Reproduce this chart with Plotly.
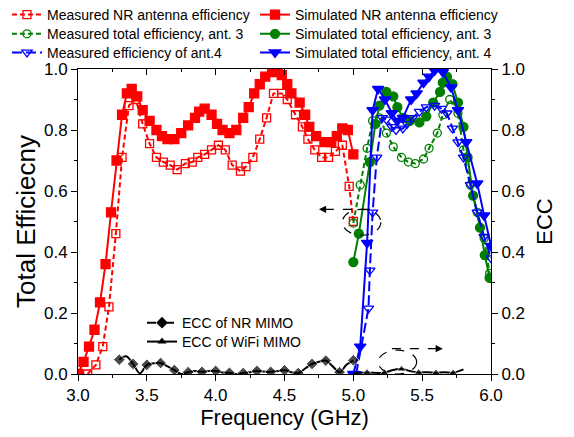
import plotly.graph_objects as go

# ---------------- data ----------------
sim_nr_x = [3.00, 3.04, 3.08, 3.12, 3.16, 3.20, 3.24, 3.28, 3.32, 3.355, 3.39, 3.43, 3.47, 3.52,
            3.57, 3.61, 3.65, 3.70, 3.75, 3.80, 3.85, 3.88, 3.92, 3.97, 4.01, 4.05, 4.10, 4.15,
            4.20, 4.24, 4.28, 4.32, 4.36, 4.41, 4.45, 4.48, 4.52, 4.55, 4.61, 4.65, 4.68, 4.73,
            4.79, 4.84, 4.88, 4.92, 4.96, 5.00]
sim_nr_y = [0.00, 0.04, 0.09, 0.145, 0.235, 0.36, 0.53, 0.70, 0.85, 0.92, 0.935, 0.91, 0.865, 0.83,
            0.80, 0.78, 0.77, 0.77, 0.79, 0.815, 0.84, 0.86, 0.87, 0.85, 0.82, 0.80, 0.79, 0.80,
            0.84, 0.875, 0.92, 0.95, 0.975, 0.99, 0.995, 0.98, 0.95, 0.92, 0.89, 0.85, 0.81, 0.78,
            0.76, 0.76, 0.78, 0.805, 0.80, 0.72]

meas_nr_x = [3.07, 3.13, 3.18, 3.225, 3.275, 3.32, 3.37, 3.42, 3.47, 3.52, 3.57, 3.62, 3.67, 3.72,
             3.78, 3.83, 3.87, 3.92, 3.97, 4.02, 4.07, 4.12, 4.18, 4.22, 4.27, 4.32, 4.37, 4.42,
             4.48, 4.52, 4.58, 4.63, 4.67, 4.72, 4.77, 4.82, 4.87, 4.92, 4.97, 5.00]
meas_nr_y = [0.00, 0.03, 0.09, 0.22, 0.46, 0.71, 0.88, 0.90, 0.82, 0.755, 0.71, 0.695, 0.685, 0.67,
             0.69, 0.695, 0.71, 0.72, 0.735, 0.75, 0.735, 0.685, 0.665, 0.68, 0.71, 0.77, 0.84, 0.92,
             0.92, 0.90, 0.85, 0.81, 0.77, 0.735, 0.71, 0.71, 0.73, 0.75, 0.615, 0.50]

meas_a3_x = [5.00, 5.05, 5.10, 5.14, 5.19, 5.24, 5.29, 5.35, 5.40, 5.45, 5.51, 5.55, 5.61, 5.65,
             5.70, 5.76, 5.80, 5.85, 5.90, 5.95, 5.99]
meas_a3_y = [0.495, 0.62, 0.74, 0.83, 0.84, 0.79, 0.745, 0.71, 0.695, 0.69, 0.705, 0.74, 0.79, 0.85,
             0.90, 0.855, 0.735, 0.62, 0.53, 0.445, 0.33]

sim_a3_x = [5.00, 5.04, 5.12, 5.16, 5.19, 5.24, 5.29, 5.32, 5.36, 5.41, 5.48, 5.53, 5.58, 5.63,
            5.65, 5.68, 5.72, 5.76, 5.80, 5.83, 5.87, 5.92, 5.955, 5.99]
sim_a3_y = [0.367, 0.46, 0.695, 0.82, 0.88, 0.925, 0.91, 0.875, 0.84, 0.83, 0.825, 0.845, 0.89, 0.925,
            0.955, 0.975, 0.95, 0.89, 0.81, 0.71, 0.585, 0.48, 0.39, 0.315]

meas_a4_x = [5.02, 5.11, 5.12, 5.14, 5.17, 5.21, 5.24, 5.28, 5.31, 5.36, 5.39, 5.43, 5.48, 5.53,
             5.59, 5.64, 5.68, 5.72, 5.76, 5.80, 5.85, 5.90, 5.95, 6.00]
meas_a4_y = [0.00, 0.215, 0.34, 0.53, 0.71, 0.84, 0.835, 0.81, 0.80, 0.805, 0.82, 0.84, 0.86, 0.875,
             0.88, 0.87, 0.855, 0.805, 0.76, 0.71, 0.62, 0.53, 0.45, 0.38]

sim_a4_x = [5.00, 5.05, 5.10, 5.14, 5.18, 5.23, 5.28, 5.32, 5.36, 5.42, 5.46, 5.51, 5.55, 5.59,
            5.65, 5.71, 5.76, 5.82, 5.90, 5.95, 6.00]
sim_a4_y = [0.00, 0.09, 0.43, 0.865, 0.935, 0.90, 0.855, 0.83, 0.84, 0.90, 0.92, 0.955, 0.975, 0.995,
            0.99, 0.94, 0.865, 0.76, 0.625, 0.52, 0.42]

ecc_nr_x = [3.30, 3.35, 3.40, 3.45, 3.50, 3.55, 3.60, 3.65, 3.70, 3.75, 3.80, 3.85, 3.90, 3.95,
            4.00, 4.05, 4.10, 4.15, 4.20, 4.25, 4.30, 4.35, 4.40, 4.45, 4.50, 4.55, 4.60, 4.65,
            4.70, 4.75, 4.80, 4.85, 4.90, 4.95, 5.00]
ecc_nr_y = [0.047, 0.058, 0.033, 0.002, 0.030, 0.035, 0.036, 0.025, 0.013, 0.000, 0.006, 0.010,
            0.007, 0.010, 0.010, 0.005, 0.004, 0.000, 0.003, 0.006, 0.010, 0.008, 0.007, 0.010,
            0.012, 0.006, 0.003, 0.018, 0.033, 0.040, 0.044, 0.025, 0.006, 0.030, 0.045]
ecc_nr_marked = [True, False] * 17 + [True]

ecc_wifi_x = [5.00, 5.05, 5.10, 5.15, 5.225, 5.28, 5.35, 5.41, 5.475, 5.54, 5.60, 5.66, 5.725, 5.80]
ecc_wifi_y = [0.003, 0.004, 0.005, 0.004, 0.004, 0.012, 0.016, 0.010, 0.005, 0.006, 0.004, 0.006,
              0.004, 0.015]
ecc_wifi_marked = [False, False, True, False, True, False, True, False, True, False, True, False,
                   True, False]

RED, GREEN, BLUE = "#FF0000", "#008000", "#0000FF"
FONT = "Arial, 'Liberation Sans', sans-serif"
DASH = "5px,3px"

fig = go.Figure()


def add(x, y, name, color, dash, symbol, size, legend):
    fig.add_trace(go.Scatter(
        x=x, y=y, name=name, mode="lines+markers",
        line=dict(color=color, width=2, dash=dash),
        marker=dict(symbol=symbol, size=size, color=color, line=dict(color=color, width=1.3)),
        legend=legend))


add(meas_nr_x, meas_nr_y, "Measured NR antenna efficiency", RED, DASH, "square-open", 8, "legend")
add(sim_nr_x, sim_nr_y, "Simulated NR antenna efficiency", RED, "solid", "square", 9, "legend3")
add(meas_a3_x, meas_a3_y, "Measured total efficiency, ant. 3", GREEN, DASH, "circle-open", 8, "legend4")
add(sim_a3_x, sim_a3_y, "Simulated total efficiency, ant. 3", GREEN, "solid", "circle", 9, "legend5")
add(meas_a4_x, meas_a4_y, "Measured efficiency of ant.4", BLUE, "10px,4px", "triangle-down-open", 9, "legend6")
add(sim_a4_x, sim_a4_y, "Simulated total efficiency, ant. 4", BLUE, "solid", "triangle-down", 10, "legend7")

# ECC curves (right axis)
fig.add_trace(go.Scatter(
    x=ecc_nr_x, y=ecc_nr_y, yaxis="y2", mode="lines+markers", showlegend=False,
    line=dict(color="black", width=2, shape="spline"),
    marker=dict(symbol="diamond", color="black", size=[9 if m else 0 for m in ecc_nr_marked])))
fig.add_trace(go.Scatter(
    x=ecc_wifi_x, y=ecc_wifi_y, yaxis="y2", mode="lines+markers", showlegend=False,
    line=dict(color="black", width=2, shape="spline"),
    marker=dict(symbol="triangle-up", color="black", size=[8 if m else 0 for m in ecc_wifi_marked])))
# legend entries for ECC
fig.add_trace(go.Scatter(x=[None], y=[None], yaxis="y2", name="ECC of NR MIMO", mode="lines+markers",
                         line=dict(color="black", width=2, dash="dashdot"),
                         marker=dict(symbol="diamond", color="black", size=9), legend="legend2"))
fig.add_trace(go.Scatter(x=[None], y=[None], yaxis="y2", name="ECC of WiFi MIMO", mode="lines+markers",
                         line=dict(color="black", width=2),
                         marker=dict(symbol="triangle-up", color="black", size=8), legend="legend8"))
# top axis helper (invisible)
fig.add_trace(go.Scatter(x=[3, 6], y=[0, 0], xaxis="x2", mode="lines", opacity=0,
                         showlegend=False, hoverinfo="skip"))

# ellipses & arrows
ell1 = dict(x0=4.92, x1=5.20, y0=0.455, y1=0.54)
ell2 = dict(x0=5.18, x1=5.46, y0=0.0, y1=0.078)
for e, yr in ((ell1, "y"), (ell2, "y2")):
    fig.add_shape(type="circle", xref="x", yref=yr, line=dict(color="black", width=1.2, dash="dash"), **e)
fig.add_shape(type="line", xref="x", yref="y", x0=5.12, x1=4.80, y0=0.54, y1=0.54,
              line=dict(color="black", width=1.2, dash="dash"))
fig.add_shape(type="line", xref="x", yref="y2", x0=5.28, x1=5.60, y0=0.083, y1=0.083,
              line=dict(color="black", width=1.2, dash="dash"))
fig.add_annotation(x=4.75, y=0.54, ax=4.81, ay=0.54, xref="x", yref="y", axref="x", ayref="y",
                   text="", showarrow=True, arrowhead=2, arrowsize=1.2, arrowwidth=1.2, arrowcolor="black")
fig.add_annotation(x=5.65, y=0.083, ax=5.59, ay=0.083, xref="x", yref="y2", axref="x", ayref="y2",
                   text="", showarrow=True, arrowhead=2, arrowsize=1.2, arrowwidth=1.2, arrowcolor="black")

axis_common = dict(showline=True, linecolor="black", linewidth=1, mirror=False, showgrid=False,
                   zeroline=False, ticks="outside", ticklen=6, tickcolor="black",
                   tickfont=dict(size=17, color="black", family=FONT))

legend_common = dict(orientation="v", xanchor="left", yanchor="middle", bgcolor="rgba(0,0,0,0)",
                     font=dict(size=14, family=FONT), itemwidth=30, tracegroupgap=0)

COL1, COL2 = -0.172, 0.4286
ROW1, ROW2, ROW3 = 1.177, 1.114, 1.053

# the page body adds an 8px offset, so the figure is sized 8px smaller on each leading side
fig.update_layout(
    width=566, height=429, margin=dict(l=70, r=83, t=61, b=63, autoexpand=False),
    paper_bgcolor="white", plot_bgcolor="white",
    font=dict(family=FONT, color="black"),
    xaxis=dict(range=[3, 6], dtick=0.5, tickformat=".1f",
               minor=dict(dtick=0.25, ticks="outside", ticklen=3, tickcolor="black"),
               title=dict(text="Frequency (GHz)", font=dict(size=22), standoff=0), **axis_common),
    xaxis2=dict(range=[3, 6], overlaying="x", side="top", anchor="y", showline=True, linecolor="black",
                showgrid=False, zeroline=False, ticks="inside", ticklen=6, dtick=0.5,
                showticklabels=False, tickcolor="black",
                minor=dict(dtick=0.25, ticks="inside", ticklen=3, tickcolor="black")),
    yaxis=dict(range=[0, 1], dtick=0.2, tickformat=".1f",
               minor=dict(dtick=0.1, ticks="outside", ticklen=3, tickcolor="black"),
               title=dict(text="Total Efficiecny", font=dict(size=26), standoff=0), **axis_common),
    yaxis2=dict(range=[0, 1], dtick=0.2, tickformat=".1f", overlaying="y", side="right",
                minor=dict(dtick=0.1, ticks="outside", ticklen=3, tickcolor="black"),
                title=dict(text="ECC", font=dict(size=22), standoff=12), **axis_common),
    legend=dict(x=COL1, y=ROW1, **legend_common),
    legend3=dict(x=COL2, y=ROW1, **legend_common),
    legend4=dict(x=COL1, y=ROW2, **legend_common),
    legend5=dict(x=COL2, y=ROW2, **legend_common),
    legend6=dict(x=COL1, y=ROW3, **legend_common),
    legend7=dict(x=COL2, y=ROW3, **legend_common),
    legend2=dict(x=0.155, y=0.167, **legend_common),
    legend8=dict(x=0.155, y=0.105, **legend_common),
)

fig.write_html("out.html")
